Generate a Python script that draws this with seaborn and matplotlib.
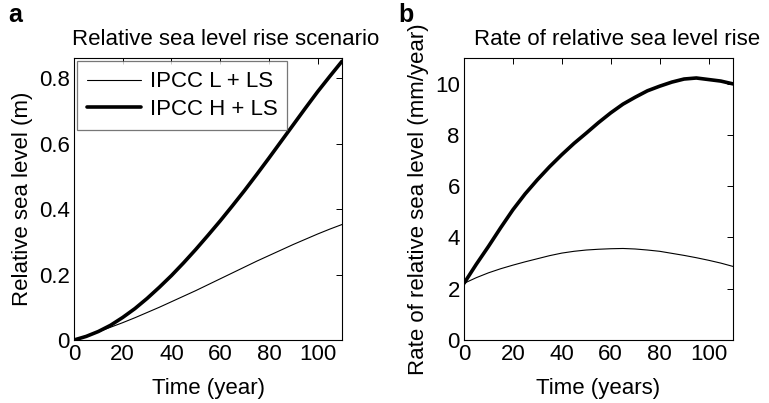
import matplotlib
matplotlib.use("Agg")
import matplotlib.pyplot as plt
import seaborn as sns
import pandas as pd

years = [0, 5, 10, 15, 20, 25, 30, 35, 40, 45, 50, 55, 60, 65, 70, 75, 80, 85, 90, 95, 100, 105, 110]
level_low = [0, 0.012, 0.025, 0.039, 0.053, 0.068, 0.084, 0.100, 0.117, 0.134, 0.151, 0.169, 0.187,
             0.205, 0.223, 0.241, 0.258, 0.275, 0.292, 0.308, 0.324, 0.339, 0.353]
level_high = [0, 0.011, 0.026, 0.045, 0.069, 0.096, 0.127, 0.161, 0.197, 0.236, 0.277, 0.320, 0.364,
              0.410, 0.457, 0.506, 0.556, 0.607, 0.658, 0.709, 0.759, 0.806, 0.852]
rate_low = [2.21, 2.43, 2.62, 2.78, 2.92, 3.05, 3.17, 3.29, 3.39, 3.46, 3.51, 3.54, 3.56,
            3.57, 3.55, 3.51, 3.46, 3.38, 3.30, 3.21, 3.11, 3.00, 2.87]
rate_high = [2.21, 2.95, 3.65, 4.38, 5.08, 5.70, 6.25, 6.76, 7.23, 7.67, 8.07, 8.48, 8.86,
             9.20, 9.47, 9.72, 9.90, 10.06, 10.18, 10.22, 10.16, 10.10, 9.99]
series = ["IPCC L + LS", "IPCC H + LS"]

sns.set_theme(style="white")
plt.rcParams['font.family'] = ['Liberation Sans', 'DejaVu Sans']
plt.rcParams['text.color'] = 'black'
plt.rcParams['axes.labelcolor'] = 'black'

n = len(years)
df = pd.DataFrame({
    "year": years * 4,
    "value": level_low + level_high + rate_low + rate_high,
    "series": [series[0]] * n + [series[1]] * n + [series[0]] * n + [series[1]] * n,
    "panel": ["level"] * (2 * n) + ["rate"] * (2 * n),
})

fig = plt.figure(figsize=(7.69, 4.03), dpi=100)
axa = fig.add_axes([74/769, 1 - 340/403, 268/769, 282/403])
axb = fig.add_axes([464/769, 1 - 340/403, 269/769, 282/403])

fs = 16
for ax, panel, ylim, yticks, ylabel, xlabel, title in [
    (axa, "level", (0, 0.862), [0, 0.2, 0.4, 0.6, 0.8], "Relative sea level (m)", "Time (year)", "Relative sea level rise scenario"),
    (axb, "rate", (0, 11), [0, 2, 4, 6, 8, 10], "Rate of relative sea level (mm/year)", "Time (years)", "Rate of relative sea level rise"),
]:
    d = df[df.panel == panel]
    sns.lineplot(data=d, x="year", y="value", hue="series", size="series",
                 sizes={series[0]: 0.8, series[1]: 2.6},
                 palette={series[0]: "black", series[1]: "black"},
                 ax=ax, legend=(panel == "level"))
    for ln in ax.get_lines():
        ln.set_solid_joinstyle("round")
    ax.set_xlim(0, 110)
    ax.set_ylim(*ylim)
    ax.set_yticks(yticks)
    ax.set_xticks([0, 20, 40, 60, 80, 100])
    if panel == "level":
        ax.set_yticklabels(["0", "0.2", "0.4", "0.6", "0.8"])
    ax.tick_params(axis="both", which="both", direction="in", top=True, right=True,
                   length=4, width=0.7, labelsize=fs, colors="black", pad=3)
    ax.set_xlabel(xlabel, fontsize=fs, labelpad=9, color="black")
    ax.set_ylabel(ylabel, fontsize=fs, labelpad=4, color="black")
    ax.set_title(title, fontsize=fs, pad=9, color="black", x=0.5 + 18/268)
    for s in ax.spines.values():
        s.set_color("black")
        s.set_linewidth(0.8)

leg = axa.legend(loc="upper left", fontsize=fs, frameon=True, fancybox=False,
                 edgecolor="#555555", handlelength=2.4, borderaxespad=0.15,
                 borderpad=0.45, labelspacing=0.3, handletextpad=0.4)
leg.get_frame().set_linewidth(0.9)
for t in leg.get_texts():
    t.set_color("black")

fig.text(8/769, 1 - 15/403, "a", fontsize=18, fontweight="bold", va="center", ha="left", color="black")
fig.text(398/769, 1 - 15/403, "b", fontsize=18, fontweight="bold", va="center", ha="left", color="black")

fig.savefig("out.png", dpi=100)
